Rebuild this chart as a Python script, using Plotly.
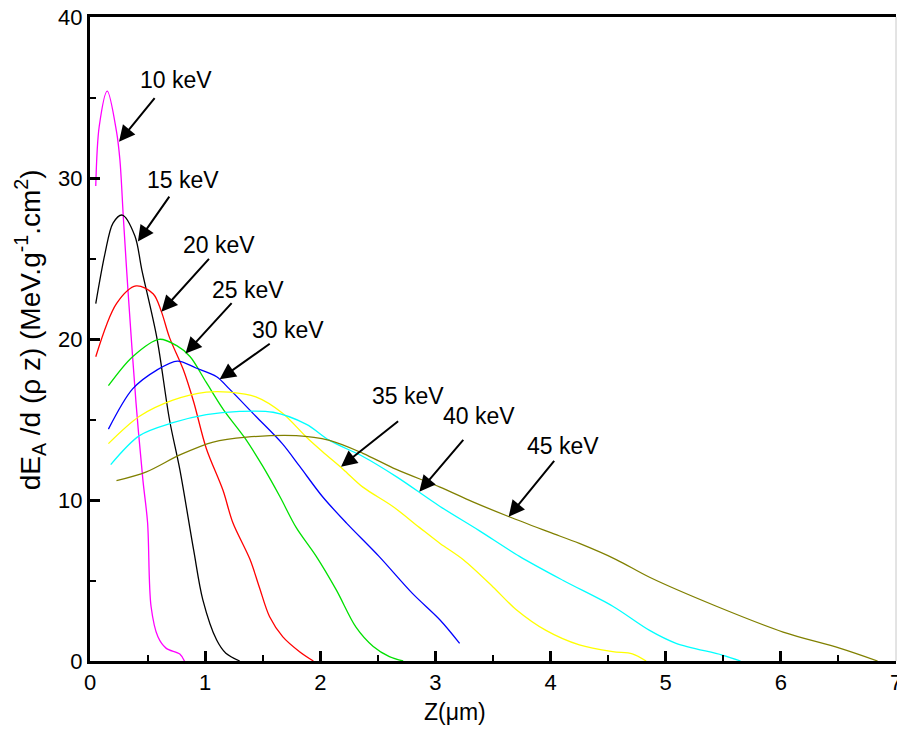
import plotly.graph_objects as go

# Deposited energy profiles dE_A/d(rho z) versus depth Z for several beam energies
z_10 = [0.05, 0.08, 0.15, 0.23, 0.26, 0.29, 0.33, 0.40, 0.46, 0.50, 0.53, 0.59, 0.66, 0.78, 0.82]
e_10 = [29.5, 33.2, 35.4, 32.9, 31.1, 27.5, 23.0, 16.0, 11.2, 8.6, 3.4, 1.5, 0.8, 0.43, 0.0]

z_15 = [0.05, 0.13, 0.20, 0.28, 0.39, 0.45, 0.58, 0.69, 0.78, 0.90, 0.98, 1.10, 1.18, 1.30]
e_15 = [22.2, 25.3, 27.2, 27.7, 26.4, 24.3, 20.1, 15.0, 11.9, 6.9, 3.8, 1.3, 0.48, 0.0]

z_20 = [0.05, 0.23, 0.40, 0.55, 0.62, 0.69, 0.81, 0.90, 1.01, 1.155, 1.24, 1.39, 1.47, 1.56, 1.675, 1.82, 1.94]
e_20 = [18.9, 22.2, 23.3, 22.8, 21.7, 20.1, 18.1, 16.1, 13.2, 10.6, 8.6, 6.3, 4.6, 2.75, 1.5, 0.58, 0.0]

z_25 = [0.16, 0.37, 0.60, 0.75, 0.87, 1.01, 1.16, 1.34, 1.50, 1.65, 1.79, 1.965, 2.14, 2.31, 2.46, 2.60, 2.72]
e_25 = [17.1, 18.9, 19.98, 19.6, 18.9, 17.3, 15.6, 13.9, 12.1, 10.2, 8.3, 6.5, 4.4, 2.1, 0.9, 0.27, 0.0]

z_30 = [0.16, 0.37, 0.58, 0.76, 0.92, 1.10, 1.21, 1.44, 1.67, 1.82, 2.02, 2.23, 2.51, 2.80, 3.04, 3.21]
e_30 = [14.4, 16.9, 18.07, 18.63, 18.2, 17.66, 16.9, 15.2, 13.5, 12.1, 10.2, 8.55, 6.5, 4.2, 2.55, 1.1]

z_35 = [0.16, 0.43, 0.72, 1.01, 1.21, 1.44, 1.67, 1.88, 2.02, 2.20, 2.37, 2.63, 2.86, 3.04, 3.24, 3.50, 3.70, 3.96, 4.25, 4.54, 4.71, 4.83]
e_35 = [13.5, 15.2, 16.2, 16.7, 16.7, 16.4, 15.4, 13.9, 13.0, 11.9, 10.8, 9.6, 8.3, 7.3, 6.3, 4.6, 3.2, 1.9, 1.0, 0.58, 0.45, 0.0]

z_40 = [0.18, 0.43, 0.72, 1.01, 1.30, 1.59, 1.88, 2.08, 2.37, 2.66, 3.04, 3.38, 3.73, 4.11, 4.54, 4.86, 5.09, 5.49, 5.65]
e_40 = [12.2, 14.0, 14.8, 15.3, 15.5, 15.45, 14.7, 13.7, 12.7, 11.45, 9.6, 8.1, 6.5, 5.0, 3.4, 1.9, 1.1, 0.37, 0.0]

z_45 = [0.23, 0.49, 0.78, 1.07, 1.36, 1.79, 2.08, 2.37, 2.66, 3.04, 3.32, 3.64, 3.99, 4.25, 4.57, 4.86, 5.44, 6.02, 6.51, 6.84]
e_45 = [11.2, 11.75, 12.8, 13.6, 13.9, 14.0, 13.7, 12.9, 11.9, 10.8, 9.9, 8.96, 8.0, 7.3, 6.3, 5.2, 3.4, 1.8, 0.8, 0.0]

curves = [
    (z_10, e_10, "#FF00FF"),
    (z_15, e_15, "#000000"),
    (z_20, e_20, "#FF0000"),
    (z_25, e_25, "#00E000"),
    (z_30, e_30, "#0000FF"),
    (z_35, e_35, "#FFFF00"),
    (z_40, e_40, "#00FFFF"),
    (z_45, e_45, "#808000"),
]

# Energy labels: text position, arrow tail and arrow head (data coordinates)
labels = ["10 keV", "15 keV", "20 keV", "25 keV", "30 keV", "35 keV", "40 keV", "45 keV"]
label_x = [0.745, 0.807, 1.12, 1.372, 1.718, 2.76, 3.38, 4.105]
label_y = [36.1, 29.9, 25.85, 23.04, 20.56, 16.46, 15.24, 13.35]
tail_x = [0.572, 0.698, 1.045, 1.242, 1.574, 2.689, 3.253, 4.042]
tail_y = [35.05, 28.94, 25.07, 22.32, 19.77, 14.97, 13.83, 12.53]
head_x = [0.252, 0.416, 0.62, 0.83, 1.126, 2.18, 2.86, 3.636]
head_y = [32.25, 26.05, 21.7, 19.1, 17.5, 12.07, 10.52, 8.96]

font_family = "Liberation Sans, Arial, sans-serif"

fig = go.Figure()
for zs, es, col in curves:
    fig.add_trace(go.Scatter(
        x=zs, y=es, mode="lines",
        line=dict(color=col, width=1.3, shape="spline", smoothing=0.9),
        showlegend=False, hoverinfo="skip",
    ))

annotations = []
for t, lx, ly, tx, ty, hx, hy in zip(labels, label_x, label_y, tail_x, tail_y, head_x, head_y):
    annotations.append(dict(
        x=lx, y=ly, xref="x", yref="y", text=t, showarrow=False,
        xanchor="center", yanchor="middle",
        font=dict(family=font_family, size=23, color="black"),
    ))
    annotations.append(dict(
        x=hx, y=hy, ax=tx, ay=ty, xref="x", yref="y", axref="x", ayref="y",
        text="", showarrow=True, arrowhead=2, arrowsize=1.6, arrowwidth=2,
        arrowcolor="black", standoff=0, startstandoff=0,
    ))

annotations.append(dict(
    x=0.453, y=-0.079, xref="paper", yref="paper", text="Z(μm)", showarrow=False,
    xanchor="center", yanchor="middle",
    font=dict(family=font_family, size=23, color="black"),
))
annotations.append(dict(
    x=-0.074, y=0.514, xref="paper", yref="paper", textangle=-90,
    xanchor="center", yanchor="middle",
    text="dE<sub>A</sub> /d (ρ z) (MeV.g<sup>-1</sup>.cm<sup>2</sup>)", showarrow=False,
    font=dict(family=font_family, size=28, color="black"),
))

fig.update_layout(
    width=897, height=731,
    margin=dict(l=90, r=1, t=17, b=70, autoexpand=False),
    plot_bgcolor="white", paper_bgcolor="white",
    font=dict(family=font_family, size=22, color="black"),
    annotations=annotations,
    shapes=[dict(type="line", xref="paper", yref="paper", x0=1, x1=1, y0=0, y1=1,
                 line=dict(color="#c8c8c8", width=1))],
    xaxis=dict(
        range=[0, 7], tickvals=[0, 1, 2, 3, 4, 5, 6, 7], automargin=False,
        ticks="inside", ticklen=10, tickwidth=2.5, tickcolor="black",
        minor=dict(dtick=0.5, ticks="inside", ticklen=6, tickwidth=2, tickcolor="black"),
        showline=True, linewidth=3, linecolor="black", mirror=True,
        showgrid=False, zeroline=False, ticklabeloverflow="allow",
        tickfont=dict(family=font_family, size=22),
    ),
    yaxis=dict(
        range=[0, 40], tickvals=[0, 10, 20, 30, 40], automargin=False,
        ticks="inside", ticklen=10, tickwidth=2.5, tickcolor="black",
        minor=dict(dtick=5, ticks="inside", ticklen=6, tickwidth=2, tickcolor="black"),
        showline=True, linewidth=3, linecolor="black", mirror=False,
        showgrid=False, zeroline=False,
        tickfont=dict(family=font_family, size=22),
    ),
)

fig.write_html("out.html")
